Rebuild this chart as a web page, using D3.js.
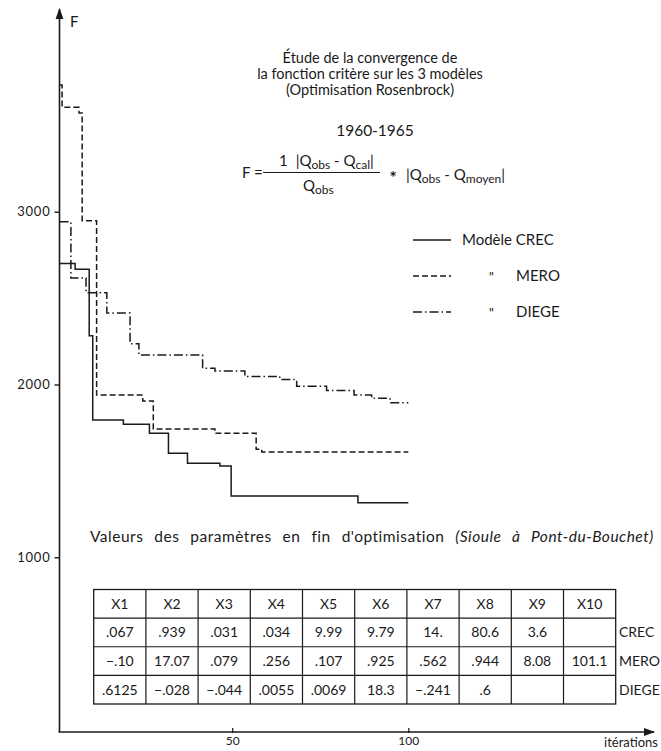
<!DOCTYPE html>
<html>
<head>
<meta charset="utf-8">
<script src="https://cdn.jsdelivr.net/npm/d3@7"></script>
<style>
  body { margin: 0; background: #fff; }
  text { font-family: Lato, "Liberation Sans", sans-serif; fill: #1a1a1a; }
</style>
</head>
<body>
<svg id="chart" width="661" height="751"></svg>
<script>
// ---- data ----
const iterTicks = [50, 100];
const fTicks = [1000, 2000, 3000];

// criterion F after each improvement (step curves), iteration at which it changes
const crecIter = [1, 5.4, 9.4, 10.4, 19.1, 26.5, 31.9, 37.3, 46.5, 49.7, 85.7, 100];
const crecF    = [2700, 2667, 2282, 1795, 1770, 1718, 1602, 1544, 1528, 1355, 1316, 1316];

const meroIter = [1, 1.7, 6.5, 7.4, 11.5, 24.6, 27.6, 45.1, 56.8, 58.4, 100];
const meroF    = [3733, 3604, 3571, 2948, 1939, 1905, 1742, 1718, 1625, 1609, 1609];

const diegeIter = [1, 4.2, 8.5, 14.4, 21, 23.5, 41.6, 45.1, 53.6, 63.5, 68.3, 76.8, 84.6, 89.6, 94.8, 100];
const diegeF    = [2942, 2617, 2531, 2414, 2236, 2171, 2094, 2078, 2047, 2029, 1990, 1966, 1939, 1920, 1895, 1895];

const paramNames = ["X1", "X2", "X3", "X4", "X5", "X6", "X7", "X8", "X9", "X10"];
const models = ["CREC", "MERO", "DIEGE"];
const crecParams  = [".067", ".939", ".031", ".034", "9.99", "9.79", "14.", "80.6", "3.6", ""];
const meroParams  = ["−.10", "17.07", ".079", ".256", ".107", ".925", ".562", ".944", "8.08", "101.1"];
const diegeParams = [".6125", "−.028", "−.044", ".0055", ".0069", "18.3", "−.241", ".6", "", ""];

const titleLines = ["Étude de la convergence de", "la fonction critère sur les 3 modèles", "(Optimisation Rosenbrock)"];

// ---- layout ----
const svg = d3.select("#chart");
const x = d3.scaleLinear().domain([0, 100]).range([56.1, 408.3]);
const y = d3.scaleLinear().domain([1000, 3000]).range([557.3, 211.7]);
const axisX0 = 59.5, axisY0 = 732;
const ink = "#1a1a1a";

// arrow head marker
svg.append("defs").append("marker")
  .attr("id", "arrow").attr("viewBox", "0 0 10 10")
  .attr("refX", 9).attr("refY", 5)
  .attr("markerWidth", 7).attr("markerHeight", 7)
  .attr("orient", "auto-start-reverse")
  .append("path").attr("d", "M0,1.5 L10,5 L0,8.5 Z").attr("fill", ink);

// axes lines
svg.append("line").attr("x1", axisX0).attr("y1", axisY0).attr("x2", axisX0).attr("y2", 9)
  .attr("stroke", ink).attr("stroke-width", 1.6).attr("marker-end", "url(#arrow)");
svg.append("line").attr("x1", axisX0 - 1).attr("y1", axisY0).attr("x2", 654).attr("y2", axisY0)
  .attr("stroke", ink).attr("stroke-width", 1.6).attr("marker-end", "url(#arrow)");

// y ticks
const yAxis = svg.append("g").attr("transform", `translate(${axisX0},0)`)
  .call(d3.axisLeft(y).tickValues(fTicks).tickSize(5).tickPadding(4).tickFormat(d3.format("d")));
yAxis.select(".domain").remove();
yAxis.selectAll("line").attr("stroke", ink).attr("stroke-width", 1.4);
yAxis.selectAll("text").attr("font-size", 13).attr("letter-spacing", 0.8)
  .style("font-family", "Lato, sans-serif").attr("fill", ink);

// x ticks
const xAxis = svg.append("g").attr("transform", `translate(0,${axisY0})`)
  .call(d3.axisBottom(x).tickValues(iterTicks).tickSize(0).tickPadding(4));
xAxis.select(".domain").remove();
xAxis.selectAll(".tick").append("line").attr("y1", -4).attr("y2", 1).attr("stroke", ink).attr("stroke-width", 1.2);
xAxis.selectAll("text").attr("font-size", 12).style("font-family", "Lato, sans-serif").attr("fill", ink);

svg.append("text").attr("x", 658).attr("y", 747).attr("text-anchor", "end")
  .attr("font-size", 13).text("itérations");
svg.append("text").attr("x", 70).attr("y", 27).attr("font-size", 15).text("F");

// step curves
const line = d3.line().x(d => x(d[0])).y(d => y(d[1])).curve(d3.curveStepAfter);
const series = [
  { it: crecIter, f: crecF, dash: null },
  { it: meroIter, f: meroF, dash: "6,3" },
  { it: diegeIter, f: diegeF, dash: "9,3,1.5,3" }
];
series.forEach(s => {
  svg.append("path")
    .datum(d3.zip(s.it, s.f))
    .attr("d", line)
    .attr("fill", "none").attr("stroke", ink).attr("stroke-width", 1.5)
    .attr("stroke-dasharray", s.dash);
});

// title block
const title = svg.append("text").attr("text-anchor", "middle").attr("font-size", 14.5);
titleLines.forEach((t, i) => {
  title.append("tspan").attr("x", 370).attr("y", 63 + i * 16).text(t);
});
svg.append("text").attr("x", 375).attr("y", 136).attr("text-anchor", "middle")
  .attr("font-size", 15.5).text("1960-1965");

// formula
const fz = 15, sz = 12;
svg.append("text").attr("x", 242).attr("y", 178).attr("font-size", fz).text("F =");
svg.append("line").attr("x1", 263).attr("x2", 380).attr("y1", 172.5).attr("y2", 172.5)
  .attr("stroke", ink).attr("stroke-width", 1.1);
const num = svg.append("text").attr("x", 279).attr("y", 166).attr("font-size", fz);
num.append("tspan").text("1");
num.append("tspan").attr("dx", 8).text("|Q");
num.append("tspan").attr("font-size", sz).attr("dy", 3).text("obs");
num.append("tspan").attr("dy", -3).text(" - Q");
num.append("tspan").attr("font-size", sz).attr("dy", 3).text("cal");
num.append("tspan").attr("dy", -3).text("|");
const den = svg.append("text").attr("x", 303).attr("y", 191).attr("font-size", fz);
den.append("tspan").text("Q");
den.append("tspan").attr("font-size", sz).attr("dy", 3).text("obs");
svg.append("text").attr("x", 393).attr("y", 184).attr("text-anchor", "middle")
  .attr("font-size", 17).attr("font-weight", "bold").text("*");
const rhs = svg.append("text").attr("x", 406).attr("y", 180).attr("font-size", fz);
rhs.append("tspan").text("|Q");
rhs.append("tspan").attr("font-size", sz).attr("dy", 3).text("obs");
rhs.append("tspan").attr("dy", -3).text(" - Q");
rhs.append("tspan").attr("font-size", sz).attr("dy", 3).text("moyen");
rhs.append("tspan").attr("dy", -3).text("|");

// legend
const legendRows = [
  { dash: null, mark: "", label: "Modèle CREC" },
  { dash: "6,3", mark: "\"", label: "MERO" },
  { dash: "9,3,1.5,3", mark: "\"", label: "DIEGE" }
];
legendRows.forEach((r, i) => {
  const ly = 240 + i * 36;
  svg.append("line").attr("x1", 413).attr("x2", 451).attr("y1", ly).attr("y2", ly)
    .attr("stroke", ink).attr("stroke-width", 1.5).attr("stroke-dasharray", r.dash);
  if (r.mark) {
    svg.append("text").attr("x", 489).attr("y", ly + 6).attr("font-size", 13).text(r.mark);
    svg.append("text").attr("x", 516).attr("y", ly + 5).attr("font-size", 15).text(r.label);
  } else {
    svg.append("text").attr("x", 462).attr("y", ly + 5).attr("font-size", 15).text(r.label);
  }
});

// parameter table
const tt = svg.append("text").attr("x", 90).attr("y", 542).attr("font-size", 15.5)
  .attr("letter-spacing", 0.5).attr("word-spacing", 6.5);
tt.append("tspan").text("Valeurs des paramètres en fin d'optimisation ");
tt.append("tspan").attr("font-style", "italic").text("(Sioule à Pont-du-Bouchet)");

const colX = d3.scaleBand().domain(paramNames).range([93.7, 615.7]);
const rowNames = ["head"].concat(models);
const rowY = d3.scaleBand().domain(rowNames).range([589.5, 704]);
const table = svg.append("g");
table.append("rect").attr("x", colX.range()[0]).attr("y", rowY.range()[0])
  .attr("width", colX.range()[1] - colX.range()[0]).attr("height", rowY.range()[1] - rowY.range()[0])
  .attr("fill", "none").attr("stroke", ink).attr("stroke-width", 1.3);
paramNames.slice(1).forEach(p => {
  table.append("line").attr("x1", colX(p)).attr("x2", colX(p))
    .attr("y1", rowY.range()[0]).attr("y2", rowY.range()[1]).attr("stroke", ink).attr("stroke-width", 1.2);
});
models.forEach(m => {
  table.append("line").attr("x1", colX.range()[0]).attr("x2", colX.range()[1])
    .attr("y1", rowY(m)).attr("y2", rowY(m)).attr("stroke", ink).attr("stroke-width", 1.2);
});
const rowValues = { head: paramNames, CREC: crecParams, MERO: meroParams, DIEGE: diegeParams };
rowNames.forEach(r => {
  rowValues[r].forEach((v, i) => {
    table.append("text")
      .attr("x", colX(paramNames[i]) + colX.bandwidth() / 2)
      .attr("y", rowY(r) + rowY.bandwidth() / 2 + 5)
      .attr("text-anchor", "middle").attr("font-size", 14).text(v);
  });
  if (r !== "head") {
    table.append("text").attr("x", 619).attr("y", rowY(r) + rowY.bandwidth() / 2 + 5)
      .attr("font-size", 14).text(r);
  }
});
</script>
</body>
</html>
